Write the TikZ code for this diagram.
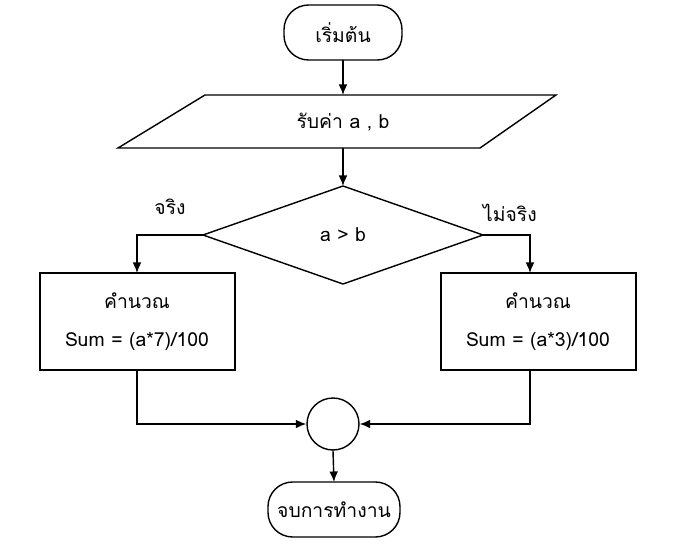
\documentclass[tikz,border=0pt]{standalone}
\usepackage{fontspec}
\setmainfont[Script=Thai]{Loma}
\usetikzlibrary{arrows.meta}
\begin{document}
\begin{tikzpicture}[x=0.02cm,y=-0.02cm,
  lbl/.style={font=\fontsize{11pt}{13pt}\selectfont},
  box/.style={draw,thick},
  arr/.style={thick,-{Latex[length=6pt,width=5pt]}}]
\useasboundingbox (0,0) rectangle (684,548);
\draw[box,rounded corners=14pt] (284,5) rectangle (402,60);
\node[lbl] (s) at (343,33) {เริ่มต้น};
\coordinate (sb) at (343,60);
\draw[box] (205,95) -- (556,95) -- (480,148) -- (118,148) -- cycle;
\node[lbl] (in) at (343,122) {รับค่า a , b};
\coordinate (pt) at (343,95);
\coordinate (pb) at (343,148);
\draw[box] (343,186) -- (483,235) -- (343,284) -- (203,235) -- cycle;
\node[lbl] (d) at (343,235) {a > b};
\coordinate (dt) at (343,186);
\coordinate (dl) at (203,235);
\coordinate (dr) at (483,235);
\node[lbl] at (170,207) {จริง};
\node[lbl] at (510,213) {ไม่จริง};
\draw[box] (40,273) rectangle (235,370);
\node[lbl] (l1) at (137,301) {คำนวณ};
\node[lbl] (l2) at (137,341) {Sum = (a*7)/100};
\draw[box] (441,273) rectangle (636,370);
\node[lbl] (r1) at (538,301) {คำนวณ};
\node[lbl] (r2) at (538,341) {Sum = (a*3)/100};
\coordinate (lt) at (137,273); \coordinate (lb) at (137,370);
\coordinate (rt) at (530,273); \coordinate (rb) at (530,370);
\node[draw,thick,circle,minimum size=1.04cm,inner sep=0] (c) at (333,424) {};
\draw[box,rounded corners=14pt] (268,482) rectangle (400,537);
\node[lbl] (e) at (334,510) {จบการทำงาน};
\coordinate (et) at (334,482);
\draw[arr] (sb) -- (pt);
\draw[arr] (pb) -- (dt);
\draw[arr] (dl) -| (lt);
\draw[arr] (dr) -| (rt);
\draw[arr] (lb) |- (c.west);
\draw[arr] (rb) |- (c.east);
\draw[arr] (c.south) -- (et);
\end{tikzpicture}
\end{document}
